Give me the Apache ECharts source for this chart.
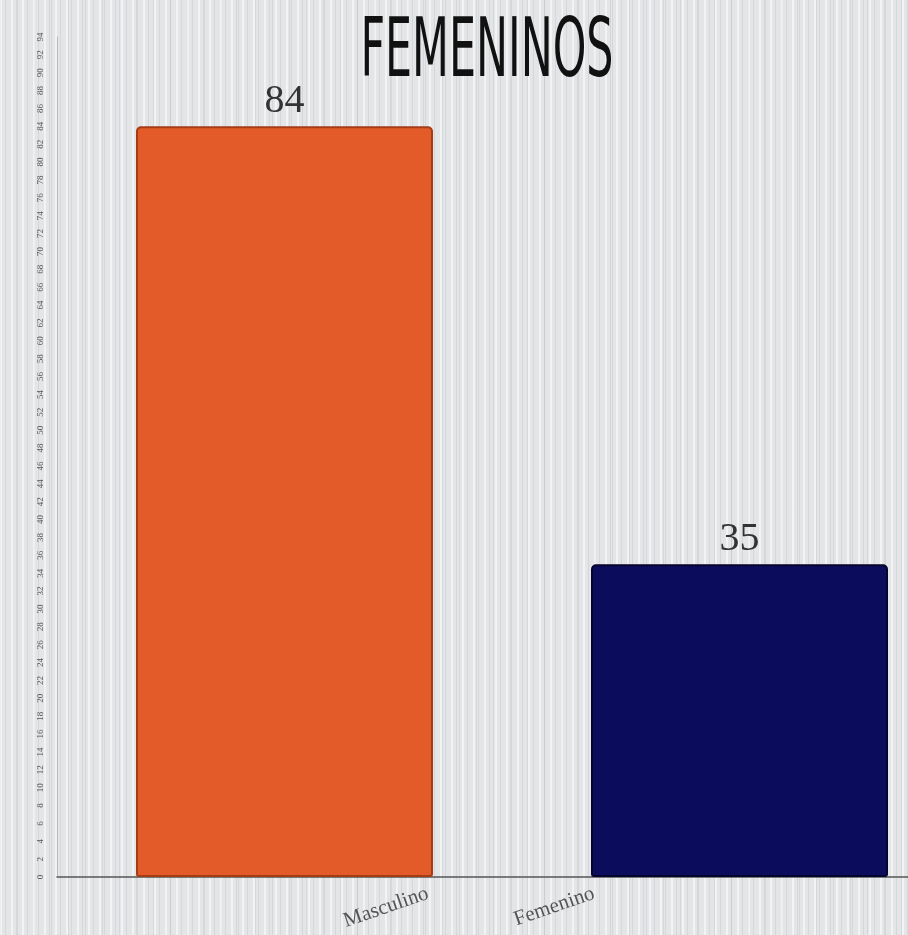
<!DOCTYPE html>
<html>
<head>
<meta charset="utf-8">
<script src="https://cdn.jsdelivr.net/npm/echarts@6/dist/echarts.min.js"></script>
<style>
  html, body { margin: 0; padding: 0; }
  #chart {
    width: 908px; height: 935px;
    background-color: #e3e5e7;
    background-image:
      repeating-linear-gradient(90deg, rgba(255,255,255,0.55) 0px, rgba(255,255,255,0.55) 2px, rgba(0,0,0,0) 2px, rgba(0,0,0,0) 5px, rgba(170,174,178,0.25) 5px, rgba(170,174,178,0.25) 6px, rgba(0,0,0,0) 6px, rgba(0,0,0,0) 11px),
      repeating-linear-gradient(90deg, rgba(150,154,158,0.18) 0px, rgba(150,154,158,0.18) 1px, rgba(0,0,0,0) 1px, rgba(0,0,0,0) 17px);
  }
</style>
</head>
<body>
<div id="chart"></div>
<script>
var titleText = 'FEMENINOS';
var categories = ['Masculino', 'Femenino'];
var values = [84, 35];
var barColors = ['#e35b28', '#0b0c5c'];
var edgeColors = ['#a63c16', '#04052e'];
var yMax = 94;
var yStep = 2;

var chartDom = document.getElementById('chart');
var myChart = echarts.init(chartDom);
var option;

option = {
  backgroundColor: 'transparent',
  animation: false,
  // condensed title, squeezed horizontally like the hand-drawn original
  graphic: [
    {
      type: 'text',
      x: 487,
      y: 55,
      scaleX: 0.58,
      style: {
        text: titleText,
        align: 'center',
        verticalAlign: 'middle',
        fontFamily: "'Liberation Sans Narrow', 'DejaVu Sans Condensed', sans-serif",
        fontSize: 82,
        fill: '#111'
      }
    }
  ],
  grid: [
    { left: 57, right: -59, top: 37, bottom: 58, outerBoundsMode: 'none' },
    // narrow helper grid: the category labels sit between the bars in the original
    { left: 345, right: 231, top: 37, bottom: 58, outerBoundsMode: 'none' }
  ],
  xAxis: [
    {
      type: 'category',
      gridIndex: 0,
      data: categories,
      axisLine: { lineStyle: { color: '#555', width: 1.5 } },
      axisTick: { show: false },
      axisLabel: { show: false }
    },
    {
      type: 'category',
      gridIndex: 1,
      data: categories,
      axisLine: { show: false },
      axisTick: { show: false },
      axisLabel: {
        interval: 0,
        rotate: 19,
        margin: 16,
        fontFamily: "'Liberation Serif', serif",
        fontSize: 21,
        color: '#555'
      }
    }
  ],
  yAxis: [
    {
      type: 'value',
      gridIndex: 0,
      min: 0,
      max: yMax,
      interval: yStep,
      axisLine: { show: true, lineStyle: { color: '#b8babc', width: 1 } },
      axisTick: { show: false },
      splitLine: { show: false },
      axisLabel: {
        rotate: 90,
        margin: 12,
        fontFamily: "'Liberation Serif', serif",
        fontSize: 9,
        color: '#555'
      }
    },
    {
      type: 'value',
      gridIndex: 1,
      show: false,
      min: 0,
      max: yMax
    }
  ],
  series: [
    {
      type: 'bar',
      xAxisIndex: 0,
      yAxisIndex: 0,
      barWidth: 297,
      data: values.map(function (v, i) {
        return {
          value: v,
          itemStyle: {
            color: barColors[i],
            borderColor: edgeColors[i],
            borderWidth: 2,
            borderRadius: [4, 4, 2, 2]
          }
        };
      }),
      label: {
        show: true,
        position: 'top',
        distance: 5,
        fontFamily: "'Liberation Serif', serif",
        fontSize: 40,
        color: '#333'
      }
    }
  ]
};

option && myChart.setOption(option);
</script>
</body>
</html>
